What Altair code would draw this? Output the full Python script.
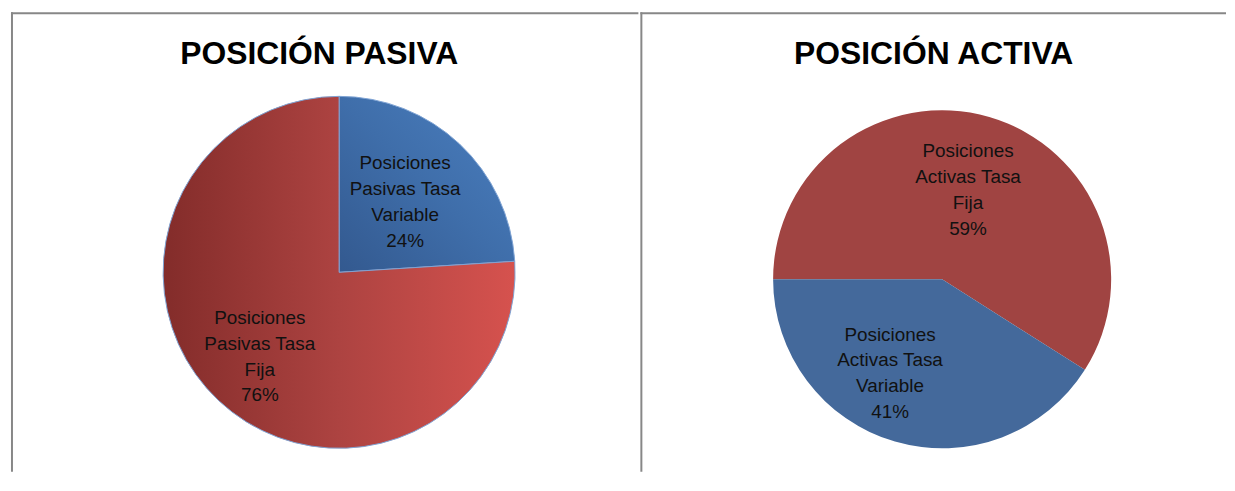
import math
import altair as alt
import pandas as pd

# ---------------- data ----------------
titles = ["POSICIÓN PASIVA", "POSICIÓN ACTIVA"]

pasiva_categories = ["Posiciones Pasivas Tasa Variable", "Posiciones Pasivas Tasa Fija"]
pasiva_values = [24, 76]
pasiva_label_lines = [["Posiciones", "Pasivas Tasa", "Variable"],
                      ["Posiciones", "Pasivas Tasa", "Fija"]]

activa_categories = ["Posiciones Activas Tasa Fija", "Posiciones Activas Tasa Variable"]
activa_values = [59, 41]
activa_label_lines = [["Posiciones", "Activas Tasa", "Fija"],
                      ["Posiciones", "Activas Tasa", "Variable"]]

# ---------------- styles ----------------
BORDER = "#878787"
LABEL_FONT = "Liberation Sans"
TITLE_FONT = "Liberation Sans"
LINE_H = 26

pasiva_fills = [
    alt.Gradient(gradient="linear", x1=0, y1=1, x2=1, y2=0,
                 stops=[alt.GradientStop(color="#33598f", offset=0),
                        alt.GradientStop(color="#3f6eaa", offset=0.5),
                        alt.GradientStop(color="#4b80c1", offset=1)]),
    alt.Gradient(gradient="linear", x1=0, y1=0, x2=1, y2=0,
                 stops=[alt.GradientStop(color="#832c2a", offset=0),
                        alt.GradientStop(color="#ad4341", offset=0.5),
                        alt.GradientStop(color="#d6524e", offset=1)]),
]
activa_fills = ["#a04442", "#44699b"]


def make_df(categories, values, lines):
    return pd.DataFrame({
        "category": categories,
        "value": values,
        "order": list(range(len(categories))),
        "label": ["\n".join(l + [f"{v}%"]) for l, v in zip(lines, values)],
        "nlines": [len(l) + 1 for l in lines],
    })


def panel(title, df, fills, stroke, width, height, cx, cy, R, start,
          label_r, label_dx, label_dy, title_x):
    base = alt.Chart(df).transform_window(
        cum="sum(value)", sort=[alt.SortField("order")], frame=[None, 0]
    ).transform_calculate(
        start="datum.cum - datum.value",
        mid="datum.cum - datum.value / 2",
    )
    tscale = alt.Scale(domain=[0, 100], range=[start, start + 2 * math.pi])
    layers = []
    for i, f in enumerate(fills):
        arc_kw = dict(radius=R, fill=f)
        if stroke:
            arc_kw.update(stroke=stroke, strokeWidth=1)
        layers.append(
            base.transform_filter(f"datum.order == {i}").mark_arc(**arc_kw).encode(
                theta=alt.Theta("start:Q", scale=tscale, stack=None),
                theta2="cum:Q",
                x=alt.value(cx), y=alt.value(cy),
            )
        )
    for i in range(len(fills)):
        n = int(df["nlines"].iloc[i])
        layers.append(
            base.transform_filter(f"datum.order == {i}").mark_text(
                radius=label_r[i], dx=label_dx[i],
                dy=label_dy[i] - (n - 1) * LINE_H / 2,
                lineBreak="\n", lineHeight=LINE_H, fontSize=19, font=LABEL_FONT,
                color="#111111", align="center", baseline="middle",
            ).encode(
                theta=alt.Theta("mid:Q", scale=tscale, stack=None),
                x=alt.value(cx), y=alt.value(cy),
                text="label:N",
            )
        )
    tdf = pd.DataFrame({"t": [title]})
    layers.append(
        alt.Chart(tdf).mark_text(
            font=TITLE_FONT, fontSize=32, fontWeight="bold", color="black",
            align="center", baseline="alphabetic",
        ).encode(text="t:N", x=alt.value(title_x), y=alt.value(52))
    )
    # panel borders
    layers.append(alt.Chart(tdf).mark_rule(color=BORDER, strokeWidth=2).encode(
        x=alt.value(1), y=alt.value(0), y2=alt.value(height)))
    layers.append(alt.Chart(tdf).mark_rule(color=BORDER, strokeWidth=2).encode(
        x=alt.value(0), x2=alt.value(width), y=alt.value(1)))
    return alt.layer(*layers).properties(width=width, height=height)


H = 462
left = panel(titles[0], make_df(pasiva_categories, pasiva_values, pasiva_label_lines),
             pasiva_fills, "#7fa3d4", 631, H, 330, 261.5, 177, 0.0,
             [97, 116.5], [0, 0], [0, 0], 310)
right = panel(titles[1], make_df(activa_categories, activa_values, activa_label_lines),
              activa_fills, None, 589, H, 303.5, 268.5, 170, 1.5 * math.pi,
              [93.3, 109], [0, -22], [0, -10], 295)

chart = alt.hconcat(left, right, spacing=0).properties(
    padding={"left": 2, "top": 2, "right": 0, "bottom": 0}
).configure_view(stroke=None)

chart.save("out.html", embed_options={"renderer": "svg", "actions": False})
